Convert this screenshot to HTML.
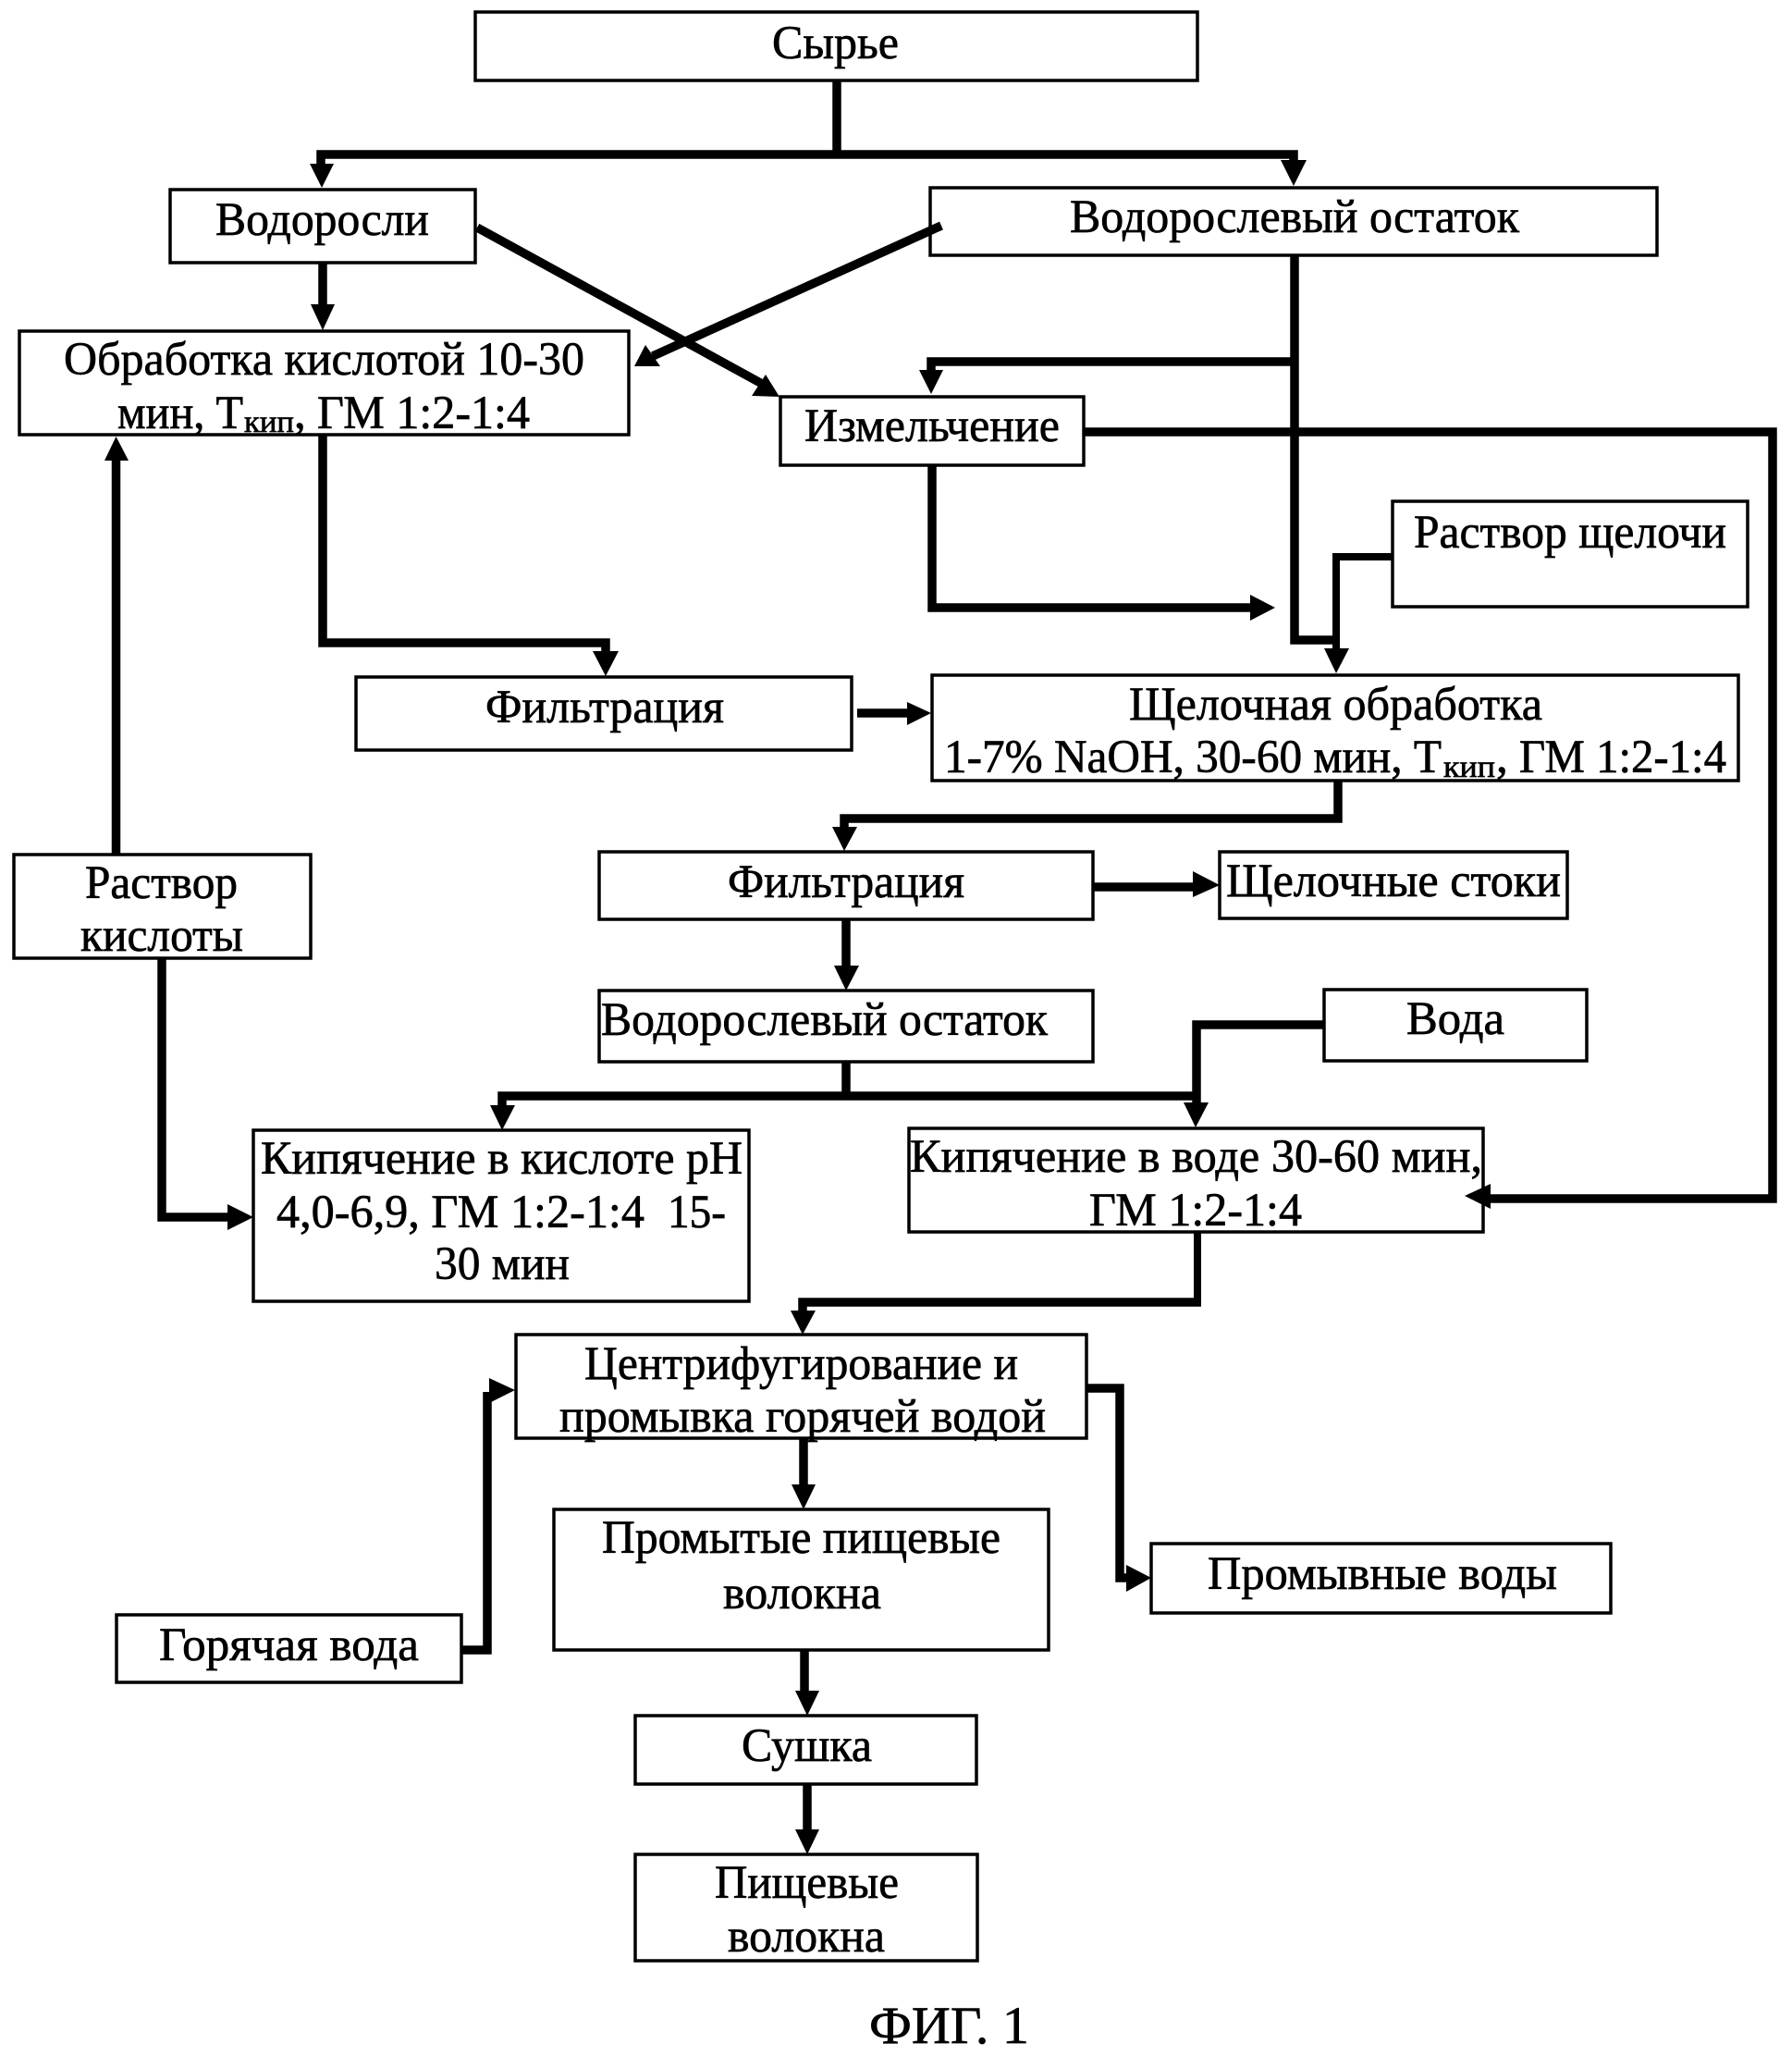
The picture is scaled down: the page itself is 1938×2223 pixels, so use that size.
<!DOCTYPE html>
<html><head><meta charset="utf-8"><style>
html,body{margin:0;padding:0;background:#fff}
svg{display:block}
text{font-family:"Liberation Serif","DejaVu Serif",serif;font-size:51px;fill:#000;stroke:#000;stroke-width:.7;text-anchor:start}
.s{font-size:34px}
rect{fill:none;stroke:#000;stroke-width:3.5}
.l{fill:none;stroke:#000;stroke-width:9.5;stroke-linejoin:miter}
.t{fill:none;stroke:#000;stroke-width:8;stroke-linejoin:miter}
</style></head><body>
<svg width="1938" height="2223" viewBox="0 0 1938 2223" xmlns="http://www.w3.org/2000/svg">
<rect x="514" y="13" width="781" height="74"/>
<rect x="184" y="205" width="330" height="79"/>
<rect x="1006" y="203" width="786" height="73"/>
<rect x="21" y="358" width="659" height="112"/>
<rect x="844" y="429" width="328" height="74"/>
<rect x="1506" y="542" width="384" height="114"/>
<rect x="385" y="732" width="536" height="79"/>
<rect x="1008" y="730" width="872" height="114"/>
<rect x="15" y="924" width="321" height="112"/>
<rect x="648" y="921" width="534" height="73"/>
<rect x="1319" y="921" width="376" height="72"/>
<rect x="648" y="1071" width="534" height="77"/>
<rect x="1432" y="1070" width="284" height="77"/>
<rect x="274" y="1222" width="536" height="185"/>
<rect x="983" y="1220" width="621" height="112"/>
<rect x="558" y="1443" width="617" height="112"/>
<rect x="599" y="1632" width="535" height="152"/>
<rect x="1245" y="1669" width="497" height="75"/>
<rect x="126" y="1746" width="373" height="73"/>
<rect x="687" y="1855" width="369" height="74"/>
<rect x="687" y="2005" width="370" height="115"/>

<!-- connectors -->
<path class="l" d="M905 87V167"/>
<path class="l" d="M347 180V167H1399V176"/>
<polygon points="335,177 361,177 348,203"/>
<polygon points="1385,173 1413,173 1399,201"/>
<path class="l" d="M349 284V332"/>
<polygon points="336,329 362,329 349,357"/>
<path class="l" d="M516 246L826 416"/>
<polygon points="843,429 813,428 828,405"/>
<path class="l" d="M1018 244L706 385"/>
<polygon points="686,396 714,396 698,373"/>
<path class="l" d="M1400 276V692H1445"/>
<path class="l" d="M1400 391H1007V402"/>
<polygon points="994,400 1020,400 1007,426"/>
<polygon points="1432,701 1459,701 1445,728"/>
<path class="l" d="M1172 467H1917V1296H1610"/>
<polygon points="1584,1293 1612,1280 1612,1307"/>
<path class="l" d="M1008 503V657H1354"/>
<polygon points="1352,643 1379,657 1352,671"/>
<path class="t" d="M1505 602H1445V704"/>
<path class="l" d="M349 470V695H655V706"/>
<polygon points="641,704 669,704 655,731"/>
<path class="l" d="M125.500 924V495"/>
<polygon points="113,498 139,498 125.500,472"/>
<path class="l" d="M175 1036V1316H248"/>
<polygon points="246,1302 274,1316 246,1330"/>
<path class="l" d="M927 771H983"/>
<polygon points="981,759 1007,771 981,784"/>
<path class="l" d="M1447 844V885H913V896"/>
<polygon points="900,894 927,894 913,920"/>
<path class="l" d="M1182 959H1292"/>
<polygon points="1290,942 1319,957 1290,970"/>
<path class="l" d="M915 995V1046"/>
<polygon points="902,1044 929,1044 915,1071"/>
<path class="l" d="M915 1148V1185"/>
<path class="l" d="M543 1197V1185H1293"/>
<polygon points="530,1195 557,1195 543,1222"/>
<path class="l" d="M1432 1108H1294V1195"/>
<polygon points="1280,1192 1307,1192 1293,1219"/>
<path class="t" d="M1295 1332V1408"/>
<path class="l" d="M1299 1408H868V1419"/>
<polygon points="855,1417 882,1417 868,1443"/>
<path class="l" d="M869 1555V1607"/>
<polygon points="856,1605 882,1605 869,1632"/>
<path class="l" d="M870 1784V1830"/>
<polygon points="860,1828 886,1828 873,1855"/>
<path class="l" d="M873 1929V1980"/>
<polygon points="860,1978 886,1978 873,2005"/>
<path class="l" d="M499 1784H527V1505"/>
<polygon points="529,1490 557,1503 529,1517"/>
<path class="l" d="M1175 1501H1211V1706H1219"/>
<polygon points="1218,1692 1245,1706 1218,1721"/>

<!-- labels -->
<text x="835" y="63" textLength="137" lengthAdjust="spacingAndGlyphs">Сырье</text>
<text x="233" y="254" textLength="231" lengthAdjust="spacingAndGlyphs">Водоросли</text>
<text x="1157" y="251" textLength="486" lengthAdjust="spacingAndGlyphs">Водорослевый остаток</text>
<text x="69" y="405" textLength="563" lengthAdjust="spacingAndGlyphs">Обработка кислотой 10-30</text>
<text x="127" y="463" textLength="136" lengthAdjust="spacingAndGlyphs">мин, Т</text>
<text class="s" x="264" y="467" textLength="54" lengthAdjust="spacingAndGlyphs">кип</text>
<text x="318" y="463">,</text>
<text x="343" y="463" textLength="230" lengthAdjust="spacingAndGlyphs">ГМ 1:2-1:4</text>
<text x="870" y="477" textLength="276" lengthAdjust="spacingAndGlyphs">Измельчение</text>
<text x="1529" y="592" textLength="338" lengthAdjust="spacingAndGlyphs">Раствор щелочи</text>
<text x="525" y="781" textLength="258" lengthAdjust="spacingAndGlyphs">Фильтрация</text>
<text x="1221" y="778" textLength="447" lengthAdjust="spacingAndGlyphs">Щелочная обработка</text>
<text x="1021" y="835" textLength="538" lengthAdjust="spacingAndGlyphs">1-7% NaOH, 30-60 мин, Т</text>
<text class="s" x="1561" y="840" textLength="56" lengthAdjust="spacingAndGlyphs">кип</text>
<text x="1618" y="835">,</text>
<text x="1643" y="835" textLength="224" lengthAdjust="spacingAndGlyphs">ГМ 1:2-1:4</text>
<text x="92" y="971" textLength="165" lengthAdjust="spacingAndGlyphs">Раствор</text>
<text x="87" y="1028" textLength="176" lengthAdjust="spacingAndGlyphs">кислоты</text>
<text x="787" y="970" textLength="256" lengthAdjust="spacingAndGlyphs">Фильтрация</text>
<text x="1326" y="969" textLength="362" lengthAdjust="spacingAndGlyphs">Щелочные стоки</text>
<text x="650" y="1119" textLength="483" lengthAdjust="spacingAndGlyphs">Водорослевый остаток</text>
<text x="1521" y="1118" textLength="106" lengthAdjust="spacingAndGlyphs">Вода</text>
<text x="282" y="1269" textLength="521" lengthAdjust="spacingAndGlyphs">Кипячение в кислоте pH</text>
<text x="299" y="1327" textLength="398" lengthAdjust="spacingAndGlyphs">4,0-6,9, ГМ 1:2-1:4</text>
<text x="722" y="1327" textLength="63" lengthAdjust="spacingAndGlyphs">15-</text>
<text x="470" y="1383" textLength="146" lengthAdjust="spacingAndGlyphs">30 мин</text>
<text x="984" y="1267" textLength="619" lengthAdjust="spacingAndGlyphs">Кипячение в воде 30-60 мин,</text>
<text x="1178" y="1325" textLength="230" lengthAdjust="spacingAndGlyphs">ГМ 1:2-1:4</text>
<text x="632" y="1491" textLength="469" lengthAdjust="spacingAndGlyphs">Центрифугирование и</text>
<text x="605" y="1548" textLength="526" lengthAdjust="spacingAndGlyphs">промывка горячей водой</text>
<text x="651" y="1679" textLength="431" lengthAdjust="spacingAndGlyphs">Промытые пищевые</text>
<text x="782" y="1739" textLength="171" lengthAdjust="spacingAndGlyphs">волокна</text>
<text x="1306" y="1718" textLength="378" lengthAdjust="spacingAndGlyphs">Промывные воды</text>
<text x="172" y="1795" textLength="281" lengthAdjust="spacingAndGlyphs">Горячая вода</text>
<text x="802" y="1904" textLength="141" lengthAdjust="spacingAndGlyphs">Сушка</text>
<text x="773" y="2052" textLength="199" lengthAdjust="spacingAndGlyphs">Пищевые</text>
<text x="787" y="2110" textLength="170" lengthAdjust="spacingAndGlyphs">волокна</text>
<text x="940" y="2209" textLength="173" lengthAdjust="spacingAndGlyphs" style="font-size:57px">ФИГ. 1</text>
</svg>
</body></html>
